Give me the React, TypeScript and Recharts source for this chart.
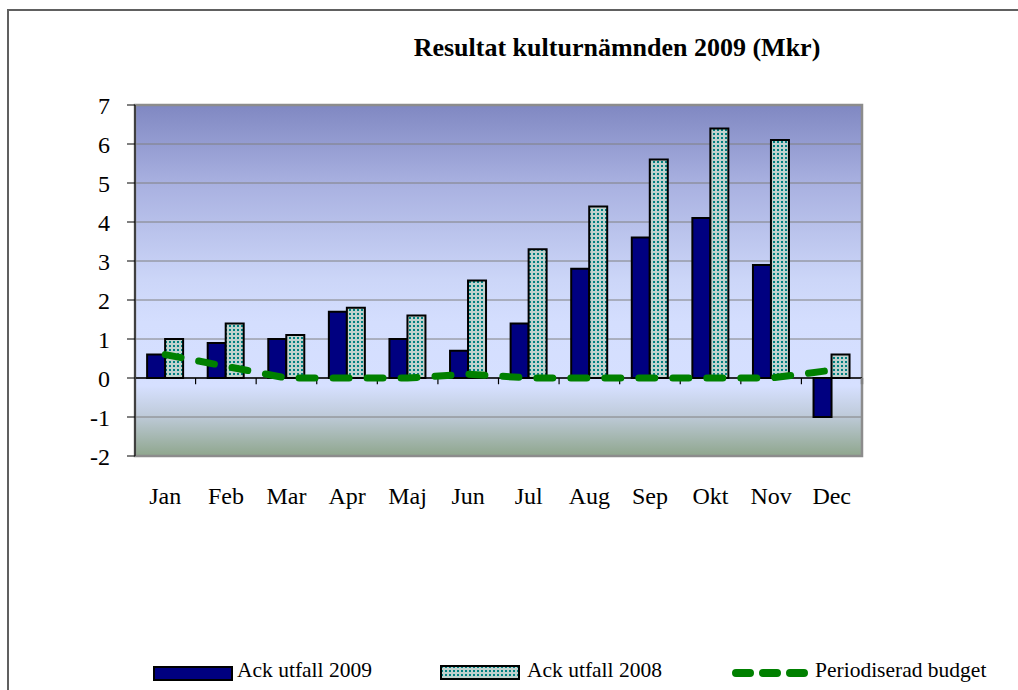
import React from 'react';
import {
  ComposedChart, Bar, Line, XAxis, YAxis, CartesianGrid, ReferenceLine, ReferenceArea, Legend,
} from 'recharts';

const months = ['Jan', 'Feb', 'Mar', 'Apr', 'Maj', 'Jun', 'Jul', 'Aug', 'Sep', 'Okt', 'Nov', 'Dec'];
const ack2009 = [0.6, 0.9, 1.0, 1.7, 1.0, 0.7, 1.4, 2.8, 3.6, 4.1, 2.9, -1.0];
const ack2008 = [1.0, 1.4, 1.1, 1.8, 1.6, 2.5, 3.3, 4.4, 5.6, 6.4, 6.1, 0.6];
const budget = [0.6, 0.3, 0, 0, 0, 0.1, 0, 0, 0, 0, 0, 0.2];
const yTicks = [-2, -1, 0, 1, 2, 3, 4, 5, 6, 7];

const title = 'Resultat kulturnämnden 2009 (Mkr)';
const seriesNames = ['Ack utfall 2009', 'Ack utfall 2008', 'Periodiserad budget'];

const data = months.map((m, i) => ({
  month: m,
  a2009: ack2009[i],
  a2008: ack2008[i],
  budget: budget[i],
}));

const FONT = '"Liberation Serif", "Times New Roman", serif';

const LegendContent = () => (
  <div style={{ position: 'relative', width: 1018, height: 30, fontFamily: FONT, fontSize: 21.5, color: '#000', textAlign: 'left' }}>
    <div style={{ position: 'absolute', left: 153, top: 8, width: 76, height: 11, background: '#000080', border: '2px solid #000' }} />
    <span style={{ position: 'absolute', left: 237, top: 0, whiteSpace: 'nowrap' }}>{seriesNames[0]}</span>
    <svg style={{ position: 'absolute', left: 440, top: 7 }} width={82} height={16}>
      <rect x={1} y={1} width={78} height={13} fill="url(#dots)" stroke="#000" strokeWidth={2} />
    </svg>
    <span style={{ position: 'absolute', left: 527, top: 0, whiteSpace: 'nowrap' }}>{seriesNames[1]}</span>
    <svg style={{ position: 'absolute', left: 728, top: 5 }} width={82} height={20}>
      <line x1={8} y1={10} x2={76} y2={10} stroke="#008000" strokeWidth={8} strokeLinecap="round" strokeDasharray="14 13" />
    </svg>
    <span style={{ position: 'absolute', left: 815, top: 0, whiteSpace: 'nowrap' }}>{seriesNames[2]}</span>
  </div>
);

export default function App() {
  return (
    <div style={{ position: 'absolute', left: 0, top: 0, width: 1018, height: 690, background: '#fff', overflow: 'hidden' }}>
      <div style={{ position: 'absolute', left: 7, top: 9, width: 1030, height: 700, borderLeft: '2px solid #606060', borderTop: '2px solid #606060' }} />
      <div style={{
        position: 'absolute', left: 617, top: 33, transform: 'translateX(-50%)', whiteSpace: 'nowrap',
        fontFamily: FONT, fontWeight: 'bold', fontSize: 26, color: '#000',
      }}>{title}</div>
      <div style={{ position: 'absolute', left: 0, top: 0 }}>
        <ComposedChart
          width={1018}
          height={690}
          data={data}
          margin={{ top: 105, right: 156, bottom: 194, left: 0 }}
          barCategoryGap="20%"
          barGap={0}
        >
          <defs>
            <linearGradient id="bg" x1="0" y1="0" x2="0" y2="1">
              <stop offset="0" stopColor="#8088C2" />
              <stop offset="0.22" stopColor="#A8B0E0" />
              <stop offset="0.5" stopColor="#CCD6F8" />
              <stop offset="0.62" stopColor="#D4DEFE" />
              <stop offset="0.8" stopColor="#D6E0FF" />
              <stop offset="0.88" stopColor="#C0CCDC" />
              <stop offset="1" stopColor="#8FA68D" />
            </linearGradient>
            <pattern id="dots" x="0" y="0" width="4" height="4" patternUnits="userSpaceOnUse">
              <rect x="0" y="0" width="4" height="4" fill="#C0D2CE" />
              <rect x="1" y="1" width="2" height="2" fill="#008080" />
            </pattern>
          </defs>
          <CartesianGrid vertical={false} stroke="#808080" strokeWidth={1} fill="url(#bg)" fillOpacity={1} />
          <XAxis
            dataKey="month"
            height={40}
            axisLine={false}
            tickLine={false}
            tickSize={0}
            tickMargin={31}
            interval={0}
            tick={{ fill: '#000', fontSize: 24, fontFamily: FONT }}
          />
          <YAxis
            width={135}
            domain={[-2, 7]}
            ticks={yTicks}
            interval={0}
            allowDataOverflow
            axisLine={{ stroke: '#404040', strokeWidth: 2 }}
            tickLine={{ stroke: '#000', strokeWidth: 1 }}
            tickSize={8}
            tickMargin={17}
            tick={{ fill: '#000', fontSize: 24, fontFamily: FONT }}
          />
          <ReferenceArea x1={months[0]} x2={months[months.length - 1]} y1={-2} y2={7} fill="none" stroke="#8C8C8C" strokeWidth={2.5} ifOverflow="visible" />
          <ReferenceLine y={0} stroke="#000" strokeWidth={1.5} />
          {months.slice(1).map((m) => (
            <ReferenceLine
              key={m}
              position="start"
              segment={[{ x: m, y: 0 }, { x: m, y: -0.16 }]}
              stroke="#000"
              strokeWidth={1.2}
              ifOverflow="visible"
            />
          ))}
          <ReferenceLine
            position="end"
            segment={[{ x: months[months.length - 1], y: 0 }, { x: months[months.length - 1], y: -0.16 }]}
            stroke="#808080"
            strokeWidth={2.5}
            ifOverflow="visible"
          />
          <Bar dataKey="a2009" name={seriesNames[0]} fill="#000080" stroke="#000" strokeWidth={2} isAnimationActive={false} />
          <Bar dataKey="a2008" name={seriesNames[1]} fill="url(#dots)" stroke="#000" strokeWidth={2} isAnimationActive={false} />
          <Line
            dataKey="budget"
            name={seriesNames[2]}
            type="linear"
            stroke="#008000"
            strokeWidth={7}
            strokeDasharray="16 18"
            strokeLinecap="round"
            dot={false}
            activeDot={false}
            isAnimationActive={false}
          />
          <Legend
            verticalAlign="middle"
            align="center"
            content={LegendContent}
            wrapperStyle={{ position: 'absolute', top: 658, left: 0, width: 1018, height: 30 }}
          />
        </ComposedChart>
      </div>
    </div>
  );
}
